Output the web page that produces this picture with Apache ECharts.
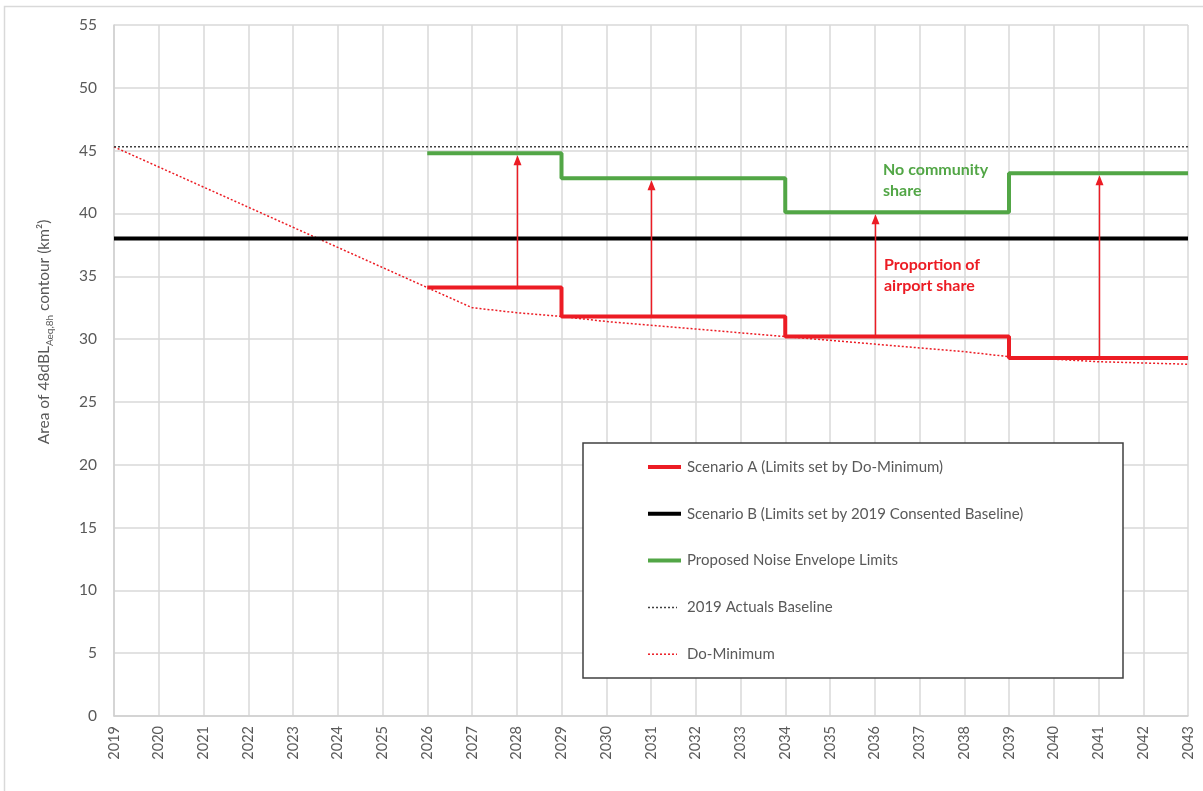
<!DOCTYPE html>
<html>
<head>
<meta charset="utf-8">
<script src="https://cdn.jsdelivr.net/npm/echarts@6/dist/echarts.min.js"></script>
<style>
html,body{margin:0;padding:0;background:#fff;}
#chart{width:1203px;height:791px;}
</style>
</head>
<body>
<div id="chart"></div>
<script>
const years = [2019,2020,2021,2022,2023,2024,2025,2026,2027,2028,2029,2030,2031,2032,2033,2034,2035,2036,2037,2038,2039,2040,2041,2042,2043];
const doMinimum = [45.3,43.7,42.1,40.5,38.9,37.3,35.7,34.1,32.5,32.1,31.8,31.4,31.1,30.8,30.5,30.2,29.9,29.6,29.3,29.0,28.6,28.4,28.2,28.1,28.0];
const scenarioB = [38.0,38.0,38.0,38.0,38.0,38.0,38.0,38.0,38.0,38.0,38.0,38.0,38.0,38.0,38.0,38.0,38.0,38.0,38.0,38.0,38.0,38.0,38.0,38.0,38.0];
const actualsBaseline = [45.3,45.3,45.3,45.3,45.3,45.3,45.3,45.3,45.3,45.3,45.3,45.3,45.3,45.3,45.3,45.3,45.3,45.3,45.3,45.3,45.3,45.3,45.3,45.3,45.3];
const limitYears = [2026,2027,2028,2029,2030,2031,2032,2033,2034,2035,2036,2037,2038,2039,2040,2041,2042,2043];
const scenarioA = [34.1,34.1,34.1,31.8,31.8,31.8,31.8,31.8,30.2,30.2,30.2,30.2,30.2,28.5,28.5,28.5,28.5,28.5];
const envelope = [44.8,44.8,44.8,42.8,42.8,42.8,42.8,42.8,40.1,40.1,40.1,40.1,40.1,43.2,43.2,43.2,43.2,43.2];
const arrowYears = [2028,2031,2036,2041];
const yTicks = {min:0, max:55, interval:5};
const names = ['Scenario A (Limits set by Do-Minimum)','Scenario B (Limits set by 2019 Consented Baseline)','Proposed Noise Envelope Limits','2019 Actuals Baseline','Do-Minimum'];

const RED = '#EC1C24', GREEN = '#52A646', BLACK = '#000000', GREY = '#595959', DOTGREY = '#404040';
const FONT = 'Lato';

const zip = (xs, ys) => xs.map((x, i) => [x, ys[i]]);
const arrowData = arrowYears.map(y => {
  const i = limitYears.indexOf(y);
  return [y, scenarioA[i], envelope[i]];
});

const legendStyles = [
  {color:RED, width:4, dash:null, len:33},
  {color:BLACK, width:4, dash:null, len:33},
  {color:GREEN, width:4, dash:null, len:33},
  {color:DOTGREY, width:1.5, dash:[2,2], len:29},
  {color:RED, width:1.5, dash:[2,2], len:29}
];
const legendGraphics = [];
names.forEach((n, i) => {
  const s = legendStyles[i];
  const cy = 467 + i * 46.8;
  legendGraphics.push({type:'line', z:101, shape:{x1:648, y1:cy, x2:648 + s.len, y2:cy},
    style:{stroke:s.color, lineWidth:s.width, lineDash:s.dash}});
  legendGraphics.push({type:'text', z:101, x:687, y:cy,
    style:{text:n, fill:GREY, font:'15px Lato', align:'left', verticalAlign:'middle'}});
});

const chart = echarts.init(document.getElementById('chart'), null, {renderer:'canvas'});
chart.setOption({
  animation:false,
  textStyle:{fontFamily:FONT},
  grid:{left:114, right:15, top:25, bottom:75},
  xAxis:{
    type:'value', min:2019, max:2043, interval:1,
    axisLine:{show:true, lineStyle:{color:'#d0d0d0', width:1.5}},
    axisTick:{show:false},
    splitLine:{show:true, lineStyle:{color:'#d9d9d9', width:1.5}},
    axisLabel:{rotate:90, margin:10, color:GREY, fontSize:14.5, fontFamily:FONT, formatter:v => String(v)}
  },
  yAxis:{
    type:'value', min:yTicks.min, max:yTicks.max, interval:yTicks.interval,
    axisLine:{show:true, lineStyle:{color:'#d0d0d0', width:1.5}},
    axisTick:{show:false},
    splitLine:{show:true, lineStyle:{color:'#d9d9d9', width:1.5}},
    axisLabel:{margin:17, color:GREY, fontSize:15.5, fontFamily:FONT}
  },
  series:[
    {name:names[4], type:'line', data:zip(years, doMinimum), symbol:'none', z:2,
     lineStyle:{color:RED, width:1.5, type:[2,2]}, itemStyle:{color:RED}},
    {name:names[3], type:'line', data:zip(years, actualsBaseline), symbol:'none', z:2,
     lineStyle:{color:DOTGREY, width:1.5, type:[2,2]}, itemStyle:{color:DOTGREY}},
    {name:names[1], type:'line', data:zip(years, scenarioB), symbol:'none', z:3,
     lineStyle:{color:BLACK, width:4}, itemStyle:{color:BLACK}},
    {name:names[2], type:'line', data:zip(limitYears, envelope), symbol:'none', step:'end', z:4,
     lineStyle:{color:GREEN, width:4}, itemStyle:{color:GREEN}},
    {name:names[0], type:'line', data:zip(limitYears, scenarioA), symbol:'none', step:'end', z:5,
     lineStyle:{color:RED, width:4}, itemStyle:{color:RED}},
    {name:'arrows', type:'custom', z:6, silent:true, data:arrowData,
     renderItem:(params, api) => {
       const p0 = api.coord([api.value(0), api.value(1)]);
       const p1 = api.coord([api.value(0), api.value(2)]);
       const x = Math.round(p0[0]) + 0.5;
       const tip = p1[1] + 2;
       return {type:'group', children:[
         {type:'line', shape:{x1:x, y1:p0[1], x2:x, y2:tip + 8}, style:{stroke:RED, lineWidth:1.5}},
         {type:'polygon', shape:{points:[[x, tip], [x - 4, tip + 10], [x + 4, tip + 10]]}, style:{fill:RED}}
       ]};
     }}
  ],
  graphic:[
    {type:'rect', z:-10, shape:{x:4.5, y:6.5, width:1300, height:900},
     style:{fill:'none', stroke:'#d9d9d9', lineWidth:1.5}},
    {type:'rect', z:100, shape:{x:583, y:443, width:540, height:235},
     style:{fill:'#ffffff', stroke:'#404040', lineWidth:1.5}},
    ...legendGraphics,
    {type:'text', z:100, x:42, y:332, rotation:Math.PI/2,
     style:{
       text:'{a|Area of 48dBL}{s|Aeq,8h}{a| contour (km²)}',
       align:'center', verticalAlign:'middle', fill:GREY,
       rich:{
         a:{fontSize:15.5, fontFamily:FONT, fill:GREY, lineHeight:20, verticalAlign:'bottom'},
         s:{fontSize:10, fontFamily:FONT, fill:GREY, lineHeight:20, verticalAlign:'bottom', padding:[0,0,-3,0]}
       }
     }},
    {type:'text', z:100, x:883, y:159,
     style:{text:'No community\nshare', fill:GREEN, font:'bold 16px Lato', lineHeight:21, align:'left', verticalAlign:'top'}},
    {type:'text', z:100, x:884, y:254,
     style:{text:'Proportion of\nairport share', fill:RED, font:'bold 16px Lato', lineHeight:21, align:'left', verticalAlign:'top'}}
  ]
});
</script>
</body>
</html>
